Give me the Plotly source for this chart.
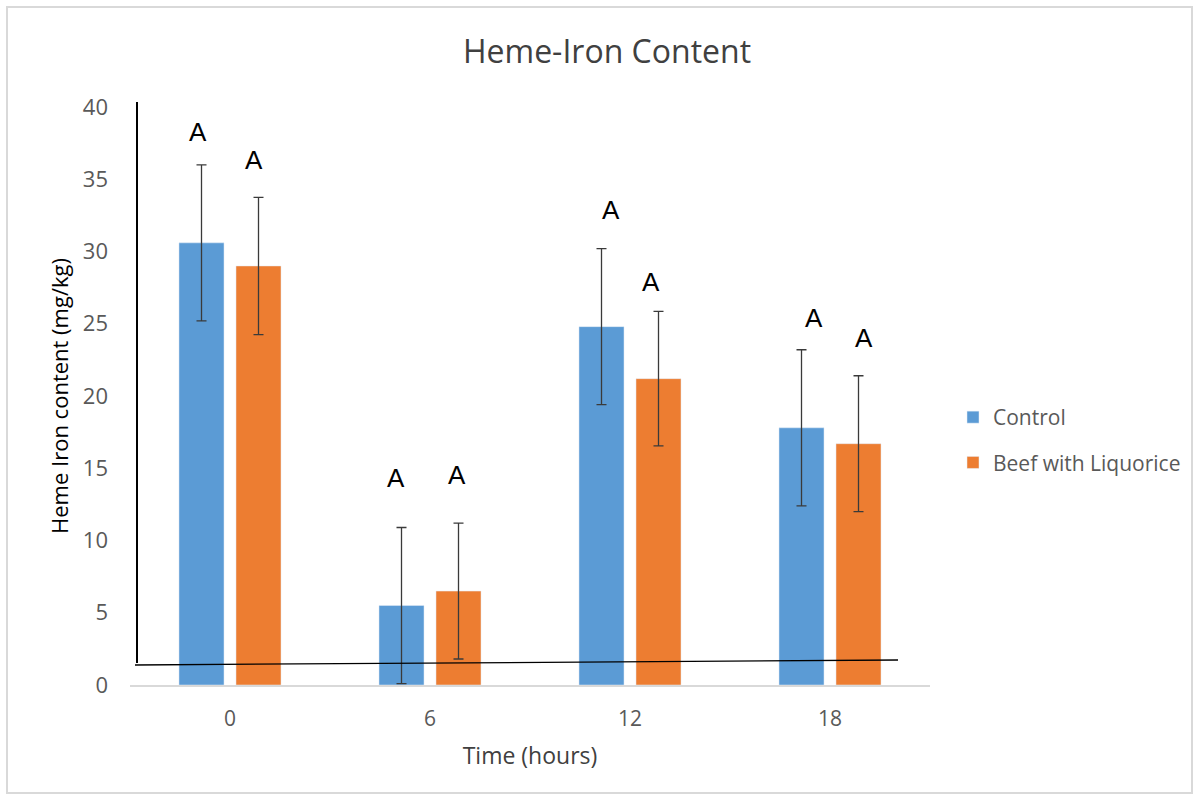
import plotly.graph_objects as go

# ---- data ----
time_labels = ["0", "6", "12", "18"]
control_mean = [30.6, 5.5, 24.8, 17.8]
control_err = [5.4, 5.4, 5.4, 5.4]
liquorice_mean = [29.0, 6.5, 21.2, 16.7]
liquorice_err = [4.75, 4.7, 4.65, 4.7]
control_letters = ["A", "A", "A", "A"]
liquorice_letters = ["A", "A", "A", "A"]
control_letter_y = [38.3, 14.3, 32.9, 25.4]
liquorice_letter_y = [36.3, 14.5, 27.9, 24.0]

# ---- style ----
BLUE = "#5B9BD5"
ORANGE = "#ED7D31"
TXT = "#595959"
FONT = "'Open Sans', Lato, sans-serif"
W, H = 1199, 799
L, R, T, B = 130, 269, 107, 114
PW, PH = W - L - R, H - T - B

def px(x):
    return (x - L) / PW

def py(y):
    return (H - B - y) / PH

fig = go.Figure()
err_style = dict(type="data", visible=True, color="#3a3a3a", thickness=1.3, width=5)
fig.add_trace(go.Bar(
    name="Control", x=time_labels, y=control_mean, marker_color=BLUE,
    error_y=dict(array=control_err, **err_style), legendgroup="c",
))
fig.add_trace(go.Bar(
    name="Beef with Liquorice", x=time_labels, y=liquorice_mean, marker_color=ORANGE,
    error_y=dict(array=liquorice_err, **err_style), legendgroup="l",
))

ctrl_shift = [-32, -34, -19, -16]
liq_shift = [24, 27, 21, 34]
annotations = []
for i, lab in enumerate(time_labels):
    annotations.append(dict(x=i, y=control_letter_y[i], text=control_letters[i],
                            xref="x", yref="y", showarrow=False, xshift=ctrl_shift[i],
                            font=dict(family="Liberation Sans, Arial", size=26, color="black")))
    annotations.append(dict(x=i, y=liquorice_letter_y[i], text=liquorice_letters[i],
                            xref="x", yref="y", showarrow=False, xshift=liq_shift[i],
                            font=dict(family="Liberation Sans, Arial", size=26, color="black")))

shapes = [
    # outer light border
    dict(type="rect", xref="paper", yref="paper", x0=px(7), x1=px(1192), y0=py(7), y1=py(793),
         line=dict(color="#d9d9d9", width=2), fillcolor="rgba(0,0,0,0)", layer="below"),
    # hand-drawn black axes
    dict(type="line", xref="paper", yref="paper", x0=px(137), x1=px(137), y0=py(663), y1=py(102),
         line=dict(color="black", width=2)),
    dict(type="line", xref="paper", yref="paper", x0=px(135), x1=px(898), y0=py(665), y1=py(660),
         line=dict(color="black", width=1.3)),
]

fig.update_layout(
    width=W, height=H,
    margin=dict(l=L, r=R, t=T, b=B, autoexpand=False),
    paper_bgcolor="white", plot_bgcolor="white",
    barmode="group", bargap=0.43, bargroupgap=0.21,
    title=dict(text="Heme-Iron Content", x=607 / W, xanchor="center", y=1 - 52 / H, yanchor="middle",
               font=dict(family=FONT, size=32, color="#404040")),
    font=dict(family=FONT, color=TXT),
    xaxis=dict(type="category", range=[-0.5, 3.5], showline=True, linecolor="#d9d9d9", linewidth=1.5,
               showgrid=False, ticks="", tickfont=dict(size=21, color=TXT),
               ticklabelstandoff=14,
               title=dict(text="Time (hours)", font=dict(size=23, color="#404040"), standoff=17)),
    yaxis=dict(range=[0, 40], dtick=5, showgrid=False, zeroline=False, showline=False,
               ticks="", tickfont=dict(size=22, color=TXT), ticklabelstandoff=21,
               title=dict(text="Heme Iron content (mg/kg)", font=dict(size=22, color="black"), standoff=8)),
    legend=dict(x=px(953), xanchor="left", y=py(440), yanchor="middle",
                font=dict(size=21, color=TXT), traceorder="grouped", tracegroupgap=15,
                bgcolor="rgba(0,0,0,0)"),
    annotations=annotations,
    shapes=shapes,
)

fig.write_html("out.html", config={"displayModeBar": False},
               post_script="document.body.style.margin='0';")
